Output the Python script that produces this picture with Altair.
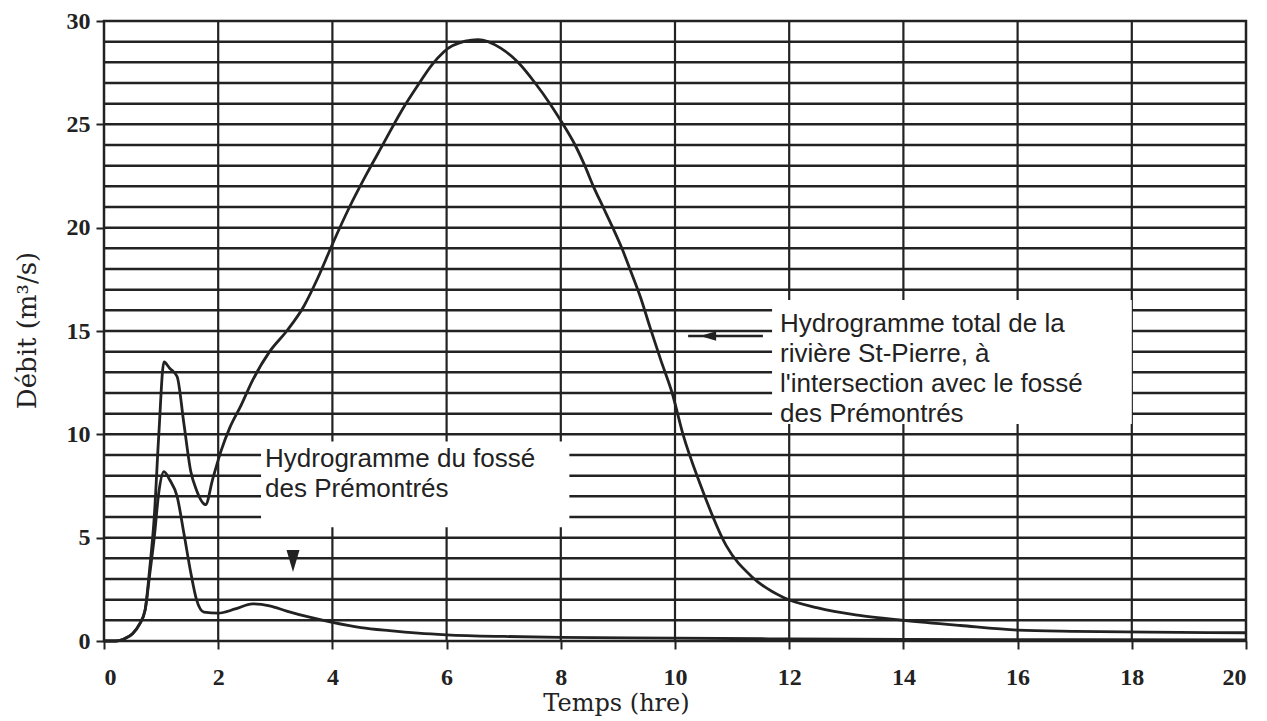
import altair as alt
import pandas as pd

# --- data ---
t_total = [0.0, 0.2, 0.35, 0.5, 0.62, 0.72, 0.8, 0.88, 0.96, 1.05, 1.15, 1.28, 1.4, 1.52, 1.62, 1.78,
           1.9, 2.05, 2.2, 2.4, 2.6, 2.9, 3.2, 3.5, 3.75, 4.0, 4.3, 4.6, 4.9, 5.2, 5.5, 5.75, 6.1,
           6.55, 6.94, 7.25, 7.55, 7.81, 8.04, 8.25, 8.42, 8.57, 8.74, 8.91, 9.07, 9.21, 9.4,
           9.56, 9.75, 9.95, 10.14, 10.44, 10.9, 11.35, 11.9, 12.5, 13.2, 14.0, 15.0, 16.0,
           17.0, 18.3, 20.0]
q_total = [0.0, 0.0, 0.1, 0.35, 0.8, 1.5, 3.5, 6.0, 10.0, 13.5, 13.2, 12.8, 10.5, 8.2, 7.3, 6.6,
           7.8, 9.2, 10.3, 11.4, 12.6, 14.0, 15.0, 16.2, 17.6, 19.2, 21.0, 22.6, 24.1, 25.6, 26.9,
           27.9, 28.8, 29.1, 28.7, 28.0, 27.0, 26.0, 25.0, 24.0, 23.0, 22.0, 21.0, 20.0, 19.0,
           18.0, 16.6, 15.2, 13.6, 12.0, 10.0, 7.6, 4.6, 3.1, 2.1, 1.6, 1.25, 1.0, 0.75, 0.53,
           0.47, 0.43, 0.4]

t_fosse = [0.0, 0.2, 0.35, 0.5, 0.62, 0.72, 0.8, 0.88, 0.96, 1.05, 1.15, 1.28, 1.4, 1.52, 1.62,
           1.75, 2.0, 2.3, 2.6, 2.9, 3.2, 3.6, 4.0, 4.5, 5.0, 5.5, 6.0, 7.0, 8.0, 10.0, 12.0,
           14.0, 17.0, 20.0]
q_fosse = [0.0, 0.0, 0.1, 0.35, 0.8, 1.5, 3.2, 5.0, 7.2, 8.2, 7.8, 7.0, 5.2, 3.3, 2.0,
           1.4, 1.35, 1.55, 1.8, 1.7, 1.45, 1.15, 0.9, 0.65, 0.5, 0.38, 0.3, 0.22, 0.18, 0.14,
           0.1, 0.08, 0.06, 0.05]

x_ticks = list(range(0, 21, 2))
y_ticks = list(range(0, 31, 5))
x_grid = list(range(2, 20, 2))
y_grid = list(range(1, 30))

box_t0 = [2.75, 11.7]
box_t1 = [8.15, 18.0]
box_q0 = [5.5, 10.5]
box_q1 = [9.65, 16.5]

label_texts = ["Hydrogramme du fossé\ndes Prémontrés",
               "Hydrogramme total de la\nrivière St-Pierre, à\nl'intersection avec le fossé\ndes Prémontrés"]
label_t = [2.82, 11.84]
label_q = [8.42, 14.95]

arrow_t0 = [10.23]
arrow_t1 = [11.54]
arrow_q = [14.76]
head_left_t = [10.58]
head_left_q = [14.76]
head_down_t = [3.31]
head_down_q = [3.87]

INK = "#222222"

xs = alt.Scale(domain=[0, 20], nice=False)
ys = alt.Scale(domain=[0, 30], nice=False)

xaxis = alt.Axis(values=x_ticks, title="Temps (hre)", grid=False, domain=False,
                 tickSize=8, tickWidth=2, tickColor=INK, labelPadding=16,
                 labelFont="Liberation Serif", labelFontSize=24, labelFontWeight="bold",
                 labelColor=INK, titleFont="DejaVu Serif", titleFontSize=24,
                 titleFontWeight="normal", titleColor=INK, titleX=512, titleY=69,
                 titleAlign="center", titleBaseline="alphabetic")
yaxis = alt.Axis(values=y_ticks, title="Débit (m³/s)", grid=False, domain=False,
                 tickSize=8, tickWidth=2, tickColor=INK, labelPadding=6,
                 labelFont="Liberation Serif", labelFontSize=24, labelFontWeight="bold",
                 labelColor=INK, titleFont="DejaVu Serif", titleFontSize=26,
                 titleFontWeight="normal", titleColor=INK, titleX=-69, titleY=309,
                 titleAngle=270, titleAlign="center", titleBaseline="alphabetic")


def X(f):
    return alt.X(f, type="quantitative", scale=xs, axis=xaxis)


def Y(f):
    return alt.Y(f, type="quantitative", scale=ys, axis=yaxis)


hgrid = alt.Chart(pd.DataFrame({"q": y_grid})).mark_rule(color=INK, strokeWidth=2.5).encode(y=Y("q"))
vgrid = alt.Chart(pd.DataFrame({"t": x_grid})).mark_rule(color=INK, strokeWidth=2.2).encode(x=X("t"))

boxes = alt.Chart(pd.DataFrame({"t": box_t0, "t2": box_t1, "q": box_q0, "q2": box_q1})).mark_rect(
    color="white").encode(x=X("t"), x2="t2", y=Y("q"), y2="q2")

df_total = pd.DataFrame({"t": t_total, "q": q_total})
df_fosse = pd.DataFrame({"t": t_fosse, "q": q_fosse})

line_total = alt.Chart(df_total).mark_line(color=INK, strokeWidth=2.8, interpolate="monotone").encode(
    x=X("t"), y=Y("q"))
line_fosse = alt.Chart(df_fosse).mark_line(color=INK, strokeWidth=2.8, interpolate="monotone").encode(
    x=X("t"), y=Y("q"))

labels = alt.Chart(pd.DataFrame({"t": label_t, "q": label_q, "txt": label_texts})).mark_text(
    align="left", baseline="alphabetic", font="Liberation Sans", fontSize=26,
    lineBreak="\n", lineHeight=30, color="#222222").encode(x=X("t"), y=Y("q"), text="txt:N")

arrow = alt.Chart(pd.DataFrame({"t": arrow_t0, "t2": arrow_t1, "q": arrow_q})).mark_rule(
    color=INK, strokeWidth=2.5).encode(x=X("t"), x2="t2", y=Y("q"))

head_left = alt.Chart(pd.DataFrame({"t": head_left_t, "q": head_left_q})).mark_point(
    shape="M-1,0L1,-0.6L1,0.6Z", filled=True, size=256, color=INK, opacity=1).encode(
    x=X("t"), y=Y("q"))
head_down = alt.Chart(pd.DataFrame({"t": head_down_t, "q": head_down_q})).mark_point(
    shape="M-1,-1.7L1,-1.7L0,1.7Z", filled=True, size=169, color=INK, opacity=1).encode(
    x=X("t"), y=Y("q"))

chart = alt.layer(hgrid, vgrid, boxes, line_total, line_fosse, labels, arrow, head_left, head_down).properties(
    width=1142, height=620,
    autosize=alt.AutoSizeParams(type="none"),
    padding={"left": 104, "top": 21, "right": 21, "bottom": 80},
    background="white",
).configure_view(stroke=INK, strokeWidth=2.5)

chart.save("out.html", embed_options={"renderer": "svg", "actions": False})
